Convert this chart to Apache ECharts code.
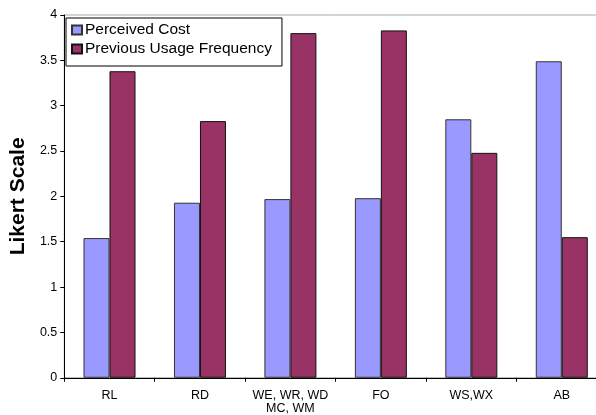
<!DOCTYPE html>
<html>
<head>
<meta charset="utf-8">
<script src="https://cdn.jsdelivr.net/npm/echarts@6/dist/echarts.min.js"></script>
<style>
  html, body { margin: 0; padding: 0; background: #fff; overflow: hidden; }
  /* canvas is wider than the window so the last group runs off the right edge */
  #chart { width: 610px; height: 415px; }
</style>
</head>
<body>
<div id="chart"></div>
<script>
// Category labels along the x axis
const categories = ['RL', 'RD', 'WE, WR, WD\nMC, WM', 'FO', 'WS,WX', 'AB'];
// Mean Likert ratings per group
const perceivedCost = [1.54, 1.93, 1.97, 1.98, 2.85, 3.49];
const previousUsageFrequency = [3.38, 2.83, 3.80, 3.83, 2.48, 1.55];
// Value axis ticks
const yMin = 0, yMax = 4, yStep = 0.5;

const font = 'Liberation Sans, Arial, sans-serif';
const chart = echarts.init(document.getElementById('chart'), null, { renderer: 'canvas' });

chart.setOption({
  animation: false,
  backgroundColor: '#fff',
  grid: {
    left: 63, top: 15, width: 544, bottom: 35,
    show: true, borderColor: '#a8a8a8', borderWidth: 1, backgroundColor: 'transparent'
  },
  legend: {
    orient: 'vertical',
    left: 66, top: 18,
    padding: [4, 10, 9, 5],
    itemGap: 3,
    itemWidth: 10, itemHeight: 9,
    icon: 'rect',
    borderColor: '#000', borderWidth: 1,
    backgroundColor: '#fff',
    textStyle: { fontFamily: font, fontSize: 15.5, color: '#000', padding: [0, 0, 0, -2] },
    data: ['Perceived Cost', 'Previous Usage Frequency']
  },
  xAxis: {
    type: 'category',
    data: categories,
    axisLine: { lineStyle: { color: '#000', width: 1 } },
    axisTick: { show: true, length: 4, lineStyle: { color: '#000' } },
    axisLabel: { fontFamily: font, fontSize: 12.5, color: '#000', margin: 12, lineHeight: 12.5, interval: 0 },
    splitLine: { show: false }
  },
  yAxis: {
    type: 'value',
    min: yMin, max: yMax, interval: yStep,
    name: 'Likert Scale',
    nameLocation: 'middle',
    nameGap: 32,
    nameTextStyle: { fontFamily: font, fontSize: 21, fontWeight: 'bold', color: '#000' },
    axisLine: { show: true, lineStyle: { color: '#000', width: 1 } },
    axisTick: { show: true, length: 4, lineStyle: { color: '#000' } },
    axisLabel: { fontFamily: font, fontSize: 12.5, color: '#000', margin: 7 },
    splitLine: { show: false }
  },
  series: [
    {
      name: 'Perceived Cost',
      type: 'bar',
      data: perceivedCost,
      barWidth: 26,
      barGap: '0%',
      itemStyle: { color: '#9999FF', borderColor: '#333', borderWidth: 1 }
    },
    {
      name: 'Previous Usage Frequency',
      type: 'bar',
      data: previousUsageFrequency,
      barWidth: 26,
      barGap: '0%',
      itemStyle: { color: '#993366', borderColor: '#111', borderWidth: 1 }
    }
  ]
});
</script>
</body>
</html>
